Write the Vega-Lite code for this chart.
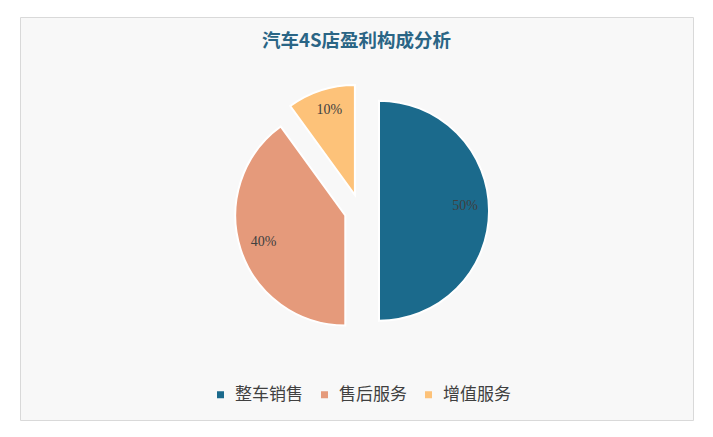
{
  "$schema": "https://vega.github.io/schema/vega-lite/v6.json",
  "width": 673,
  "height": 403,
  "autosize": {"type": "none"},
  "padding": {"left": 20, "top": 17, "right": 20, "bottom": 17},
  "background": "#ffffff",
  "view": {"fill": "#f8f8f8", "stroke": "#d9d9d9", "strokeWidth": 1},
  "config": {
    "legend": {
      "orient": "none", "legendX": 192, "legendY": 369, "direction": "horizontal", "title": null,
      "symbolType": "square", "symbolSize": 49, "symbolStrokeWidth": 0,
      "labelFont": "Noto Sans CJK SC", "labelFontSize": 17, "labelColor": "#404040",
      "labelOffset": 6, "columnPadding": 13
    }
  },
  "title": {
    "text": "汽车4S店盈利构成分析",
    "font": "Noto Sans CJK SC", "fontSize": 18.5, "fontWeight": "bold",
    "color": "#2a6585", "anchor": "middle", "offset": -33
  },
  "data": {"values": [
    {"name": "整车销售", "value": 50},
    {"name": "售后服务", "value": 40},
    {"name": "增值服务", "value": 10}
  ]},
  "transform": [
    {"stack": "value", "groupby": [], "as": ["v0", "v1"]},
    {"calculate": "(datum.v0 + datum.v1) / 2", "as": "mid"},
    {"calculate": "datum.value + '%'", "as": "label"}
  ],
  "layer": [
    {
      "transform": [{"filter": "datum.name === '整车销售'"}],
      "layer": [
        {"mark": {"type": "arc", "outerRadius": 110, "stroke": "#ffffff", "strokeWidth": 2, "xOffset": 22.5, "yOffset": -7.8},
         "encoding": {
           "theta": {"field": "v0", "type": "quantitative", "stack": null, "scale": {"domain": [0, 100]}},
           "theta2": {"field": "v1"},
           "color": {"field": "name", "type": "nominal", "scale": {"domain": ["整车销售", "售后服务", "增值服务"], "range": ["#1b6a8c", "#e59a7b", "#fdc279"]}}
         }},
        {"mark": {"type": "text", "radius": 86, "xOffset": 22.5, "yOffset": -12.5, "font": "Liberation Serif", "fontSize": 14, "fill": "#404040"},
         "encoding": {
           "theta": {"field": "mid", "type": "quantitative", "stack": null, "scale": {"domain": [0, 100]}},
           "text": {"field": "label"}
         }}
      ]
    },
    {
      "transform": [{"filter": "datum.name === '售后服务'"}],
      "layer": [
        {"mark": {"type": "arc", "outerRadius": 110, "stroke": "#ffffff", "strokeWidth": 2, "xOffset": -11.2, "yOffset": -3},
         "encoding": {
           "theta": {"field": "v0", "type": "quantitative", "stack": null, "scale": {"domain": [0, 100]}},
           "theta2": {"field": "v1"},
           "color": {"field": "name", "type": "nominal"}
         }},
        {"mark": {"type": "text", "radius": 86, "xOffset": -11.2, "yOffset": -3, "font": "Liberation Serif", "fontSize": 14, "fill": "#404040"},
         "encoding": {
           "theta": {"field": "mid", "type": "quantitative", "stack": null, "scale": {"domain": [0, 100]}},
           "text": {"field": "label"}
         }}
      ]
    },
    {
      "transform": [{"filter": "datum.name === '增值服务'"}],
      "layer": [
        {"mark": {"type": "arc", "outerRadius": 110, "stroke": "#ffffff", "strokeWidth": 2, "xOffset": -1.6, "yOffset": -23.5},
         "encoding": {
           "theta": {"field": "v0", "type": "quantitative", "stack": null, "scale": {"domain": [0, 100]}},
           "theta2": {"field": "v1"},
           "color": {"field": "name", "type": "nominal"}
         }},
        {"mark": {"type": "text", "radius": 88, "xOffset": 0, "yOffset": -25, "font": "Liberation Serif", "fontSize": 14, "fill": "#404040"},
         "encoding": {
           "theta": {"field": "mid", "type": "quantitative", "stack": null, "scale": {"domain": [0, 100]}},
           "text": {"field": "label"}
         }}
      ]
    }
  ]
}
